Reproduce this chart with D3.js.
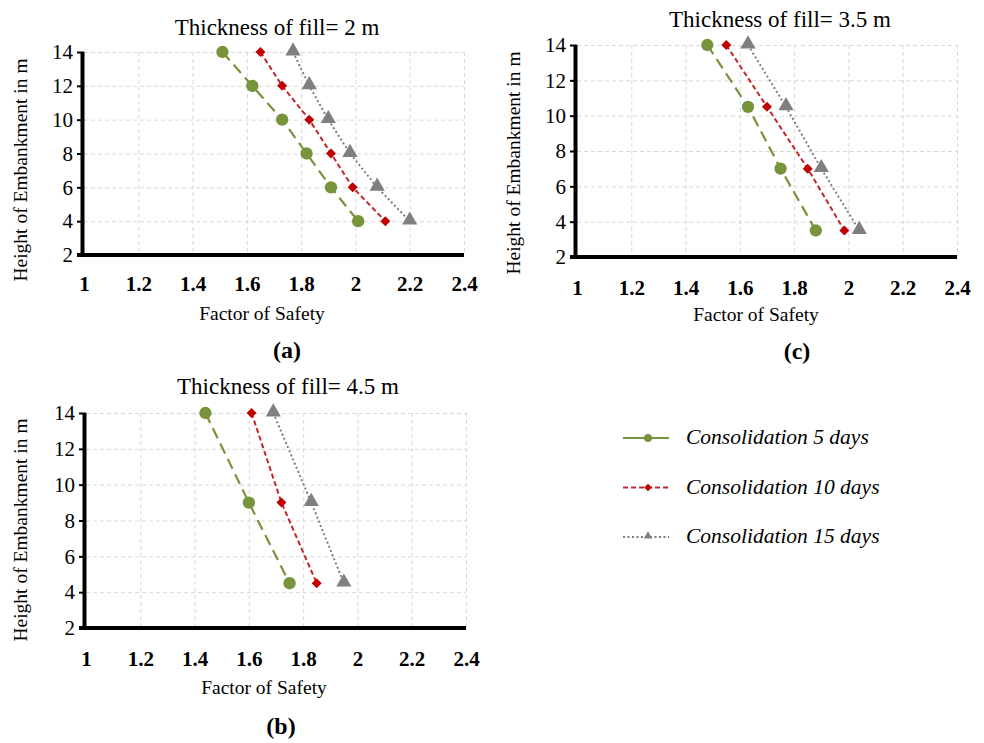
<!DOCTYPE html>
<html>
<head>
<meta charset="utf-8">
<script src="https://cdn.jsdelivr.net/npm/d3@7"></script>
<style>
  body { margin: 0; background: #fff; }
  svg { display: block; font-family: "Liberation Serif", "Times New Roman", serif; }
  svg text { font-family: "Liberation Serif", "Times New Roman", serif; }
  .grid line { stroke: #d9d9d9; stroke-dasharray: 4,3; stroke-width: 1; }
</style>
</head>
<body>
<div id="chart"></div>
<script>
// data
var seriesNames = ["Consolidation 5 days", "Consolidation 10 days", "Consolidation 15 days"];
var xTicks = [1, 1.2, 1.4, 1.6, 1.8, 2, 2.2, 2.4];
var yTicks = [2, 4, 6, 8, 10, 12, 14];

// (a) thickness of fill 2 m
var heightsA = [14, 12, 10, 8, 6, 4];
var fosA5 = [1.51, 1.62, 1.73, 1.82, 1.91, 2.01];
var fosA10 = [1.65, 1.73, 1.83, 1.91, 1.99, 2.11];
var fosA15 = [1.77, 1.83, 1.90, 1.98, 2.08, 2.20];

// (c) thickness of fill 3.5 m
var heightsC = [14, 10.5, 7, 3.5];
var fosC5 = [1.48, 1.63, 1.75, 1.88];
var fosC10 = [1.55, 1.70, 1.85, 1.985];
var fosC15 = [1.63, 1.77, 1.90, 2.04];

// (b) thickness of fill 4.5 m
var heightsB = [14, 9, 4.5];
var fosB5 = [1.44, 1.60, 1.75];
var fosB10 = [1.61, 1.72, 1.85];
var fosB15 = [1.69, 1.83, 1.95];

var svgWidth = 984;
var svgHeight = 743;
var serif = "Liberation Serif";

var svg = d3.select("#chart")
  .append("svg")
  .attr("width", svgWidth)
  .attr("height", svgHeight);

// line / marker styles per series
var styles = [
  { color: "#77933c", dash: "11,6", width: 2.2, marker: "circle" },
  { color: "#c0272d", dash: "5,3", width: 2, marker: "diamond" },
  { color: "#7f7f7f", dash: "2,2.5", width: 2, marker: "triangle" }
];

function drawMarker(g, type, x, y, color, size) {
  var sym = type == "circle" ? d3.symbolCircle : (type == "diamond" ? d3.symbolSquare : d3.symbolTriangle);
  var s = size || (type == "circle" ? 120 : (type == "diamond" ? 50 : 100));
  var p = g.append("path")
    .attr("d", d3.symbol().type(sym).size(s)())
    .attr("fill", type == "diamond" ? "#c00000" : color);
  if (type == "diamond") p.attr("transform", `translate(${x},${y}) rotate(45)`);
  else if (type == "triangle") p.attr("transform", `translate(${x},${y - 1})`);
  else p.attr("transform", `translate(${x},${y})`);
}

var panels = [
  { title: "Thickness of fill= 2 m", label: "(a)", heights: heightsA, fos: [fosA5, fosA10, fosA15],
    left: 84, top: 52, width: 380, height: 203, titleX: 277, titleY: 35, xtY: 35, xtitleX: 178, xtitleY: 65, tagX: 203, tagY: 103, ytitleX: 27, ytitleY: 170 },
  { title: "Thickness of fill= 3.5 m", label: "(c)", heights: heightsC, fos: [fosC5, fosC10, fosC15],
    left: 577, top: 45, width: 380, height: 212, titleX: 780, titleY: 27, xtY: 37, xtitleX: 179, xtitleY: 64, tagX: 220, tagY: 102, ytitleX: 520, ytitleY: 163 },
  { title: "Thickness of fill= 4.5 m", label: "(b)", heights: heightsB, fos: [fosB5, fosB10, fosB15],
    left: 86, top: 413, width: 380, height: 215, titleX: 288, titleY: 394, xtY: 37, xtitleX: 178, xtitleY: 66, tagX: 195, tagY: 106, ytitleX: 27, ytitleY: 530 }
];

panels.forEach(function(p) {
  var xScale = d3.scaleLinear().domain([1, 2.4]).range([0, p.width]);
  var yScale = d3.scaleLinear().domain([2, 14]).range([p.height, 0]);

  // title
  svg.append("text")
    .attr("x", p.titleX)
    .attr("y", p.titleY)
    .attr("text-anchor", "middle")
    .attr("font-family", serif)
    .attr("font-size", 23)
    .text(p.title);

  // y axis title
  svg.append("text")
    .attr("transform", `translate(${p.ytitleX}, ${p.ytitleY}) rotate(-90)`)
    .attr("text-anchor", "middle")
    .attr("font-family", serif)
    .attr("font-size", 19.5)
    .text("Height of Embankment in m");

  var chartGroup = svg.append("g")
    .attr("transform", `translate(${p.left}, ${p.top})`);

  // gridlines
  chartGroup.append("g")
    .attr("class", "grid")
    .call(d3.axisBottom(xScale).tickValues(xTicks.slice(1)).tickSize(p.height).tickFormat(""))
    .call(g => g.select(".domain").remove());
  chartGroup.append("g")
    .attr("class", "grid")
    .call(d3.axisLeft(yScale).tickValues(yTicks.slice(1)).tickSize(-p.width).tickFormat(""))
    .call(g => g.select(".domain").remove());

  // axes
  var yAxis = chartGroup.append("g")
    .attr("font-family", serif)
    .call(d3.axisLeft(yScale).tickValues(yTicks).tickSize(7).tickPadding(4));
  yAxis.attr("font-family", serif);
  yAxis.select(".domain").remove();
  yAxis.selectAll(".tick line").attr("stroke", "#000").attr("stroke-width", 2);
  yAxis.selectAll("text").attr("font-size", 21).attr("font-family", serif).attr("fill", "#000");

  var xAxis = chartGroup.append("g")
    .attr("transform", `translate(0, ${p.height})`)
    .call(d3.axisBottom(xScale).tickValues(xTicks).tickSize(0).tickPadding(0).tickFormat(d3.format("")));
  xAxis.attr("font-family", serif);
  xAxis.select(".domain").remove();
  xAxis.selectAll("text")
    .attr("y", p.xtY - 14)
    .attr("dy", "0.71em")
    .attr("font-size", 21)
    .attr("font-weight", "bold")
    .attr("font-family", serif)
    .attr("fill", "#000");

  chartGroup.append("line")
    .attr("x1", -1.5).attr("x2", -1.5)
    .attr("y1", 0).attr("y2", p.height + 2)
    .attr("stroke", "#000").attr("stroke-width", 4);
  chartGroup.append("line")
    .attr("x1", -7).attr("x2", p.width)
    .attr("y1", p.height).attr("y2", p.height)
    .attr("stroke", "#000").attr("stroke-width", 4);

  // series
  p.fos.forEach(function(vals, i) {
    var st = styles[i];
    var pts = vals.map(function(v, j) { return [xScale(v), yScale(p.heights[j])]; });
    chartGroup.append("path")
      .attr("d", d3.line()(pts))
      .attr("fill", "none")
      .attr("stroke", st.color)
      .attr("stroke-width", st.width)
      .attr("stroke-dasharray", st.dash);
    pts.forEach(function(pt) {
      drawMarker(chartGroup, st.marker, pt[0], pt[1], st.color);
    });
  });

  // x axis title
  chartGroup.append("text")
    .attr("x", p.xtitleX)
    .attr("y", p.height + p.xtitleY)
    .attr("text-anchor", "middle")
    .attr("font-family", serif)
    .attr("font-size", 19.5)
    .text("Factor of Safety");

  // panel tag
  chartGroup.append("text")
    .attr("x", p.tagX)
    .attr("y", p.height + p.tagY)
    .attr("text-anchor", "middle")
    .attr("font-family", serif)
    .attr("font-size", 24)
    .attr("font-weight", "bold")
    .text(p.label);
});

// legend
var legend = svg.append("g").attr("transform", "translate(623, 438)");
seriesNames.forEach(function(name, i) {
  var st = styles[i];
  var row = legend.append("g").attr("transform", `translate(0, ${i * 49.5})`);
  row.append("line")
    .attr("x1", 0).attr("x2", 46)
    .attr("stroke", st.color)
    .attr("stroke-width", st.width)
    .attr("stroke-dasharray", i == 0 ? null : (i == 1 ? "5,3" : "2,2.5"));
  drawMarker(row, st.marker, 25, 0, st.color, i == 0 ? 50 : 30);
  row.append("text")
    .attr("x", 63)
    .attr("y", 6)
    .attr("font-family", serif)
    .attr("font-size", 21.5)
    .attr("font-style", "italic")
    .text(name);
});
</script>
</body>
</html>
